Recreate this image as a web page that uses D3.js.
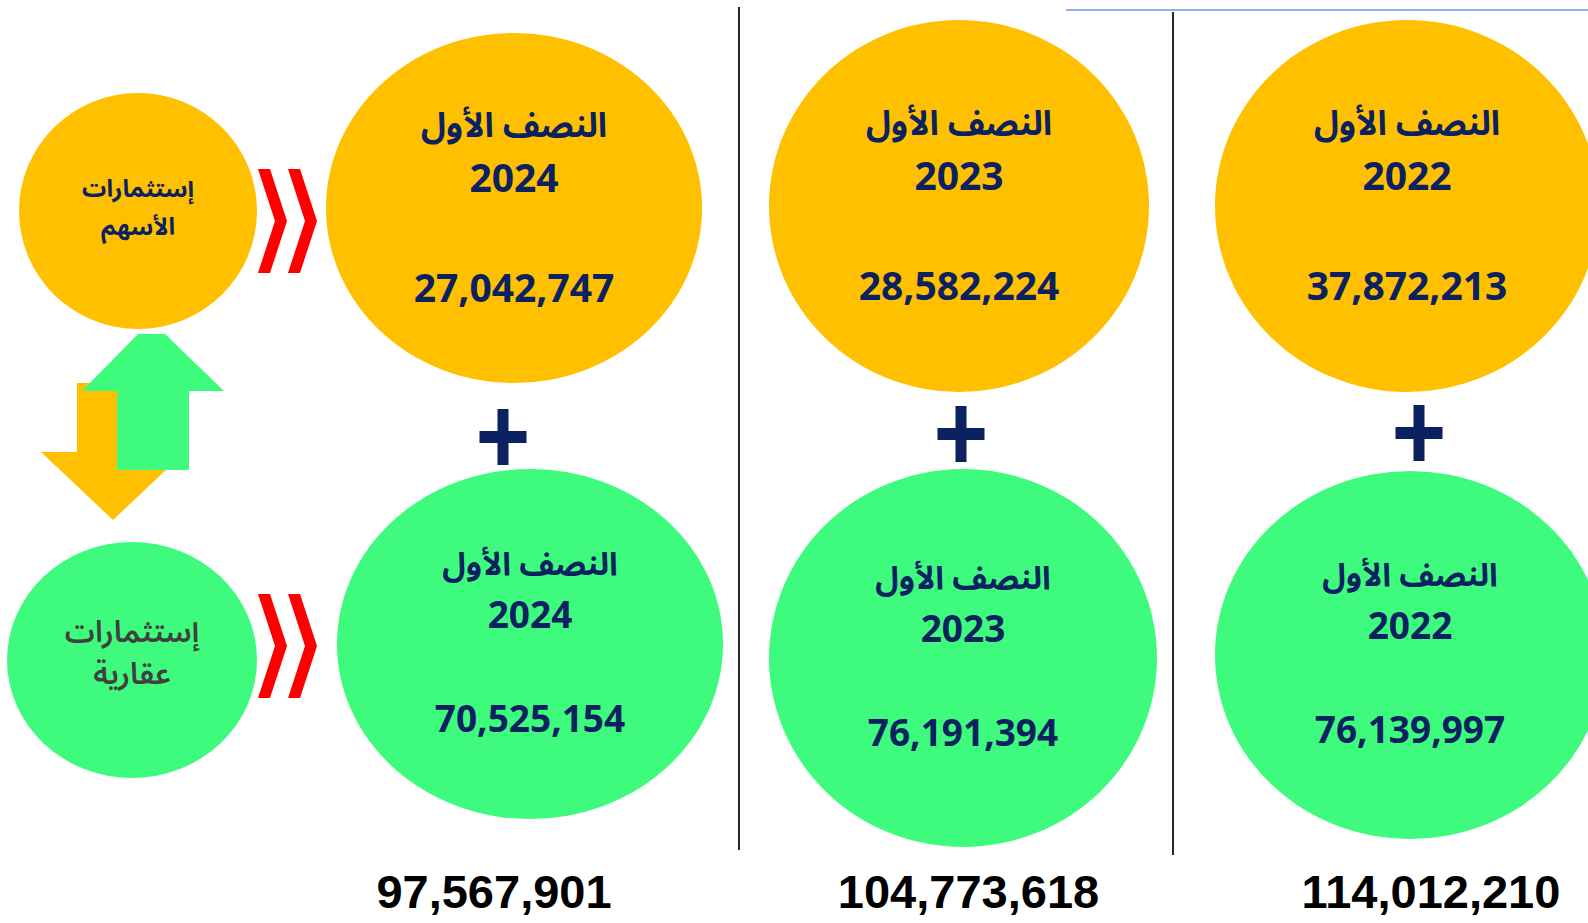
<!DOCTYPE html>
<html>
<head>
<meta charset="utf-8">
<script src="https://cdn.jsdelivr.net/npm/d3@7/dist/d3.min.js"></script>
<style>
  body { margin: 0; background: #fff; }
  svg { display: block; }
</style>
</head>
<body>
<div class="board"></div>
<script>
// DATA
var years = ["2024", "2023", "2022"];
var periodLabel = "النصف الأول";
var equityValues = [27042747, 28582224, 37872213];
var realEstateValues = [70525154, 76191394, 76139997];
var totalValues = [97567901, 104773618, 114012210];
var equityLabel = ["إستثمارات", "الأسهم"];
var realEstateLabel = ["إستثمارات", "عقارية"];

// BOARD
var W = 1588, H = 923;
var navy = "#0b2160";
var arabicFont = "'Noto Sans Arabic', 'Noto Kufi Arabic', 'DejaVu Sans', sans-serif";
var digitFont = "'Open Sans', 'Noto Sans', sans-serif";
var fmt = d3.format(",");

var svg = d3.select('.board').append('svg')
  .attr('width', W)
  .attr('height', H);

// column centers
var x = d3.scalePoint().domain(years).range([514, 1404]);

// two rows of big circles (equity on top, real estate below)
var rows = [
  {values: equityValues, fill: "#FFC000", dx: [0, 0, 3], cy: [208, 206, 206],
   rx: [188, 190, 192], ry: [175, 186, 186],
   labelDy: -71, yearDy: -16, valueDy: 94, labelSize: 34, numSize: 39},
  {values: realEstateValues, fill: "#3EFB7E", dx: [16, 4, 6], cy: [644, 658, 655],
   rx: [193, 194, 195], ry: [175, 189, 184],
   labelDy: -69, yearDy: -16, valueDy: 88, labelSize: 32, numSize: 37}
];

// separators
var separators = [{x: 739, y1: 7, y2: 850}, {x: 1173, y1: 12, y2: 855}];
svg.selectAll('line.sep')
  .data(separators)
  .enter()
  .append('line')
  .attr('class', 'sep')
  .attr('x1', function(d) { return d.x; })
  .attr('x2', function(d) { return d.x; })
  .attr('y1', function(d) { return d.y1; })
  .attr('y2', function(d) { return d.y2; })
  .attr('stroke', '#1f2e1f')
  .attr('stroke-width', 2);

// blue rule top right
svg.append('line')
  .attr('x1', 1066).attr('x2', W)
  .attr('y1', 10).attr('y2', 10)
  .attr('stroke', '#8db4e2')
  .attr('stroke-width', 2);

rows.forEach(function(row) {
  var g = svg.append('g');
  var cells = years.map(function(y, i) {
    return {year: y, value: row.values[i], cx: x(y) + row.dx[i], cy: row.cy[i], rx: row.rx[i], ry: row.ry[i]};
  });

  g.selectAll('ellipse')
    .data(cells)
    .enter()
    .append('ellipse')
    .attr('cx', function(d) { return d.cx; })
    .attr('cy', function(d) { return d.cy; })
    .attr('rx', function(d) { return d.rx; })
    .attr('ry', function(d) { return d.ry; })
    .attr('fill', row.fill);

  g.selectAll('text.period')
    .data(cells)
    .enter()
    .append('text')
    .attr('class', 'period')
    .attr('x', function(d) { return d.cx; })
    .attr('y', function(d) { return d.cy + row.labelDy; })
    .attr('text-anchor', 'middle')
    .attr('direction', 'rtl')
    .style('font-family', arabicFont)
    .style('font-weight', 'bold')
    .style('font-size', row.labelSize + 'px')
    .attr('fill', navy)
    .text(periodLabel);

  g.selectAll('text.year')
    .data(cells)
    .enter()
    .append('text')
    .attr('class', 'year')
    .attr('x', function(d) { return d.cx; })
    .attr('y', function(d) { return d.cy + row.yearDy; })
    .attr('text-anchor', 'middle')
    .style('font-family', digitFont)
    .style('font-weight', 'bold')
    .style('font-size', row.numSize + 'px')
    .attr('fill', navy)
    .text(function(d) { return d.year; });

  g.selectAll('text.value')
    .data(cells)
    .enter()
    .append('text')
    .attr('class', 'value')
    .attr('x', function(d) { return d.cx; })
    .attr('y', function(d) { return d.cy + row.valueDy; })
    .attr('text-anchor', 'middle')
    .style('font-family', digitFont)
    .style('font-weight', 'bold')
    .style('font-size', row.numSize + 'px')
    .attr('fill', navy)
    .text(function(d) { return fmt(d.value); });
});

// plus signs between the rows
var plusY = [437, 434, 433];
var plusDx = [-11, 2, 15];
svg.selectAll('path.plus')
  .data(years)
  .enter()
  .append('path')
  .attr('class', 'plus')
  .attr('transform', function(d, i) { return 'translate(' + (x(d) + plusDx[i]) + ',' + plusY[i] + ')'; })
  .attr('d', 'M-5.5,-28H5.5V-6H23.5V6H5.5V28H-5.5V6H-23.5V-6H-5.5Z')
  .attr('fill', navy);

// totals at the bottom
var totalX = d3.scalePoint().domain(years).range([494, 1431]);
svg.selectAll('text.total')
  .data(years)
  .enter()
  .append('text')
  .attr('class', 'total')
  .attr('x', function(d, i) { return totalX(d) + (i === 1 ? 6 : 0); })
  .attr('y', 908)
  .attr('text-anchor', 'middle')
  .style('font-family', "'Liberation Sans', Arial, sans-serif")
  .style('font-weight', 'bold')
  .style('font-size', '47px')
  .attr('fill', '#000')
  .text(function(d, i) { return fmt(totalValues[i]); });

// LEFT SIDE: category circles
var sideCircles = [
  {cx: 138, cy: 211, rx: 119, ry: 118, fill: "#FFC000", lines: equityLabel, color: navy, weight: 'bold', size: 24, base: [197, 235]},
  {cx: 132, cy: 660, rx: 125, ry: 118, fill: "#3EFB7E", lines: realEstateLabel, color: "#404040", weight: 600, size: 30, base: [642, 684]}
];
var side = svg.selectAll('g.side')
  .data(sideCircles)
  .enter()
  .append('g')
  .attr('class', 'side');
side.append('ellipse')
  .attr('cx', function(d) { return d.cx; })
  .attr('cy', function(d) { return d.cy; })
  .attr('rx', function(d) { return d.rx; })
  .attr('ry', function(d) { return d.ry; })
  .attr('fill', function(d) { return d.fill; });
side.each(function(d) {
  d3.select(this).selectAll('text')
    .data(d.lines)
    .enter()
    .append('text')
    .attr('x', d.cx)
    .attr('y', function(t, i) { return d.base[i]; })
    .attr('text-anchor', 'middle')
    .attr('direction', 'rtl')
    .style('font-family', arabicFont)
    .style('font-weight', d.weight)
    .style('font-size', d.size + 'px')
    .attr('fill', d.color)
    .text(function(t) { return t; });
});

// red chevrons
var line = d3.line();
var chevron = function(x0, cy) {
  return line([[x0, cy - 52], [x0 + 12, cy - 52], [x0 + 29, cy], [x0 + 12, cy + 52], [x0, cy + 52], [x0 + 17, cy]]) + 'Z';
};
var chevrons = [];
[221, 646].forEach(function(cy) {
  [258, 288].forEach(function(x0) { chevrons.push({x0: x0, cy: cy}); });
});
svg.selectAll('path.chev')
  .data(chevrons)
  .enter()
  .append('path')
  .attr('class', 'chev')
  .attr('d', function(d) { return chevron(d.x0, d.cy); })
  .attr('fill', '#FF0000');

// exchange arrows: yellow down, green up
svg.append('path')
  .attr('d', line([[77, 383], [149, 383], [149, 452], [185, 452], [113, 520], [41, 452], [77, 452]]) + 'Z')
  .attr('fill', '#FFC000');
svg.append('path')
  .attr('d', line([[117, 470], [117, 391], [82, 391], [138, 334], [165, 334], [224, 391], [189, 391], [189, 470]]) + 'Z')
  .attr('fill', '#3EFB7E');
</script>
</body>
</html>
